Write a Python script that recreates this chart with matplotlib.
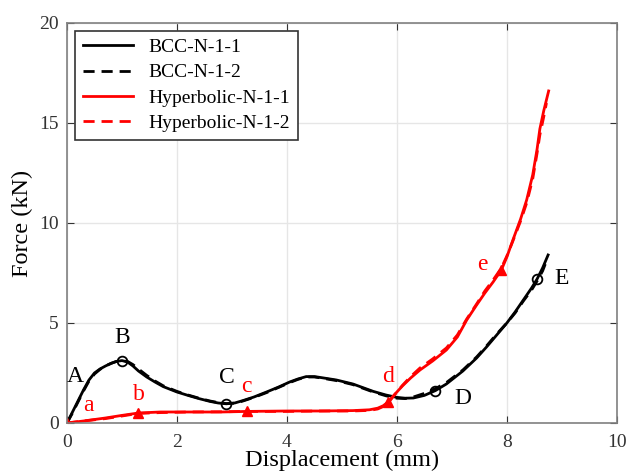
import matplotlib
matplotlib.use("Agg")
import matplotlib.pyplot as plt

plt.rcParams["font.family"] = ["Liberation Serif", "DejaVu Serif"]

# BCC-N-1 curves (displacement mm, force kN)
bcc1_x = [0.0, 0.1, 0.2, 0.3, 0.4, 0.5, 0.6, 0.7, 0.8, 0.9, 1.0, 1.1, 1.2, 1.3, 1.45, 1.6, 1.75, 2.0, 2.2,
          2.4, 2.6, 2.75, 2.9, 3.05, 3.2, 3.4, 3.63, 3.85, 4.05, 4.2, 4.35, 4.5, 4.6, 4.9, 5.2, 5.4, 5.57,
          5.8, 6.0, 6.15, 6.3, 6.5, 6.7, 6.9, 7.2, 7.45, 7.63, 7.8, 8.0, 8.15, 8.3, 8.45, 8.55, 8.65, 8.75]
bcc1_y = [0.0, 0.55, 1.1, 1.65, 2.15, 2.5, 2.7, 2.85, 2.98, 3.08, 3.12, 3.05, 2.85, 2.6, 2.3, 2.05, 1.82, 1.55,
          1.38, 1.22, 1.08, 1.0, 0.96, 1.0, 1.12, 1.3, 1.55, 1.8, 2.05, 2.2, 2.32, 2.32, 2.28, 2.15, 1.95, 1.75, 1.58,
          1.4, 1.28, 1.24, 1.25, 1.38, 1.62, 1.95, 2.6, 3.25, 3.8, 4.35, 5.0, 5.55, 6.15, 6.75, 7.2, 7.75, 8.4]
bcc2_x = [0.0, 0.1, 0.2, 0.3, 0.4, 0.5, 0.6, 0.7, 0.8, 0.9, 1.0, 1.1, 1.2, 1.3, 1.45, 1.6, 1.75, 2.0, 2.2,
          2.4, 2.6, 2.75, 2.9, 3.05, 3.2, 3.4, 3.63, 3.85, 4.05, 4.2, 4.35, 4.5, 4.6, 4.9, 5.2, 5.4, 5.57,
          5.8, 6.0, 6.15, 6.3, 6.5, 6.7, 6.9, 7.2, 7.45, 7.63, 7.8, 8.0, 8.15, 8.3, 8.45, 8.55, 8.65, 8.72]
bcc2_y = [0.0, 0.5, 1.05, 1.6, 2.1, 2.45, 2.68, 2.85, 2.98, 3.08, 3.1, 3.08, 2.92, 2.7, 2.38, 2.1, 1.86, 1.58,
          1.4, 1.24, 1.1, 1.02, 0.97, 0.99, 1.1, 1.28, 1.52, 1.78, 2.02, 2.18, 2.3, 2.3, 2.26, 2.12, 1.92, 1.72, 1.55,
          1.36, 1.24, 1.22, 1.3, 1.48, 1.72, 2.02, 2.65, 3.3, 3.85, 4.4, 5.0, 5.5, 6.1, 6.65, 7.1, 7.6, 8.1]

# Hyperbolic-N-1 curves
hyp1_x = [0.0, 0.3, 0.7, 1.0, 1.3, 1.7, 2.2, 2.8, 3.3, 4.0, 4.6, 5.2, 5.5, 5.65, 5.75, 5.84, 5.95, 6.1, 6.25,
          6.42, 6.65, 6.9, 7.1, 7.27, 7.45, 7.6, 7.75, 7.9, 8.0, 8.11, 8.25, 8.36, 8.47, 8.55, 8.6, 8.67, 8.76]
hyp1_y = [0.0, 0.1, 0.25, 0.38, 0.5, 0.55, 0.55, 0.55, 0.58, 0.6, 0.6, 0.62, 0.66, 0.74, 0.86, 1.05, 1.4, 1.85,
          2.25, 2.65, 3.1, 3.65, 4.3, 5.15, 5.9, 6.5, 7.05, 7.65, 8.3, 9.15, 10.2, 11.15, 12.4, 13.7, 14.7, 15.6, 16.6]
hyp2_x = [0.0, 0.3, 0.7, 1.0, 1.3, 1.7, 2.2, 2.8, 3.3, 4.0, 4.6, 5.2, 5.5, 5.65, 5.75, 5.84, 5.95, 6.1, 6.25,
          6.42, 6.65, 6.9, 7.1, 7.27, 7.45, 7.6, 7.75, 7.9, 8.0, 8.11, 8.25, 8.36, 8.47, 8.55, 8.6, 8.67, 8.72]
hyp2_y = [0.0, 0.1, 0.22, 0.35, 0.48, 0.52, 0.55, 0.56, 0.58, 0.58, 0.6, 0.6, 0.63, 0.7, 0.82, 1.0, 1.38, 1.88,
          2.32, 2.75, 3.2, 3.75, 4.4, 5.2, 5.95, 6.6, 7.15, 7.75, 8.35, 9.1, 10.1, 11.0, 12.2, 13.5, 14.4, 15.3, 16.0]

# marked points
bcc_pts_x = [1.0, 2.9, 6.7, 8.55]
bcc_pts_y = [3.12, 0.96, 1.62, 7.2]
hyp_pts_x = [0.0, 1.3, 3.27, 5.84, 7.9]
hyp_pts_y = [0.0, 0.5, 0.58, 1.05, 7.65]

bcc_labels = ["A", "B", "C", "D", "E"]
bcc_label_x = [0.15, 1.0, 2.9, 7.2, 9.0]
bcc_label_y = [2.3, 4.25, 2.25, 1.2, 7.2]
hyp_labels = ["a", "b", "c", "d", "e"]
hyp_label_x = [0.38, 1.3, 3.27, 5.84, 7.55]
hyp_label_y = [0.85, 1.4, 1.8, 2.3, 7.9]

fig = plt.figure(figsize=(6.32, 4.74), dpi=100)
ax = fig.add_axes([0.106, 0.1076, 0.870, 0.844])

ax.plot(bcc1_x, bcc1_y, color="black", lw=2, ls="-", label="BCC-N-1-1")
ax.plot(bcc2_x, bcc2_y, color="black", lw=2, ls=(0, (4, 2.5)), label="BCC-N-1-2")
ax.plot(hyp1_x, hyp1_y, color="red", lw=2, ls="-", label="Hyperbolic-N-1-1")
ax.plot(hyp2_x, hyp2_y, color="red", lw=2, ls=(0, (4, 2.5)), label="Hyperbolic-N-1-2")

ax.plot(bcc_pts_x, bcc_pts_y, ls="none", marker="o", ms=7, mfc="none", mec="black", mew=1.3)
ax.plot(hyp_pts_x, hyp_pts_y, ls="none", marker="^", ms=7, color="red")

for t, x, y in zip(bcc_labels, bcc_label_x, bcc_label_y):
    ax.text(x, y, t, fontsize=17, color="black", ha="center", va="center")
for t, x, y in zip(hyp_labels, hyp_label_x, hyp_label_y):
    ax.text(x, y, t, fontsize=17, color="red", ha="center", va="center")

ax.set_xlim(0, 10)
ax.set_ylim(0, 20)
ax.set_xticks([0, 2, 4, 6, 8, 10])
ax.set_yticks([0, 5, 10, 15, 20])
ax.grid(True, color="#e6e6e6", lw=1)
ax.set_axisbelow(True)
ax.tick_params(direction="in", top=True, right=True, labelsize=14, colors="#333333", length=5)
ax.tick_params(axis="x", pad=8)
ax.tick_params(axis="y", pad=6)
for s in ax.spines.values():
    s.set_color("#808080")
    s.set_linewidth(1.2)

ax.set_xlabel("Displacement (mm)", fontsize=17.5, labelpad=-1)
ax.set_ylabel("Force (kN)", fontsize=17.5, labelpad=4)

leg = ax.legend(loc="upper left", fontsize=14, handlelength=2.6, borderaxespad=0.4,
                fancybox=False, edgecolor="#333333", framealpha=1, labelspacing=0.4)
leg.get_frame().set_linewidth(1.2)

plt.savefig("out.png", dpi=100)
plt.close()
